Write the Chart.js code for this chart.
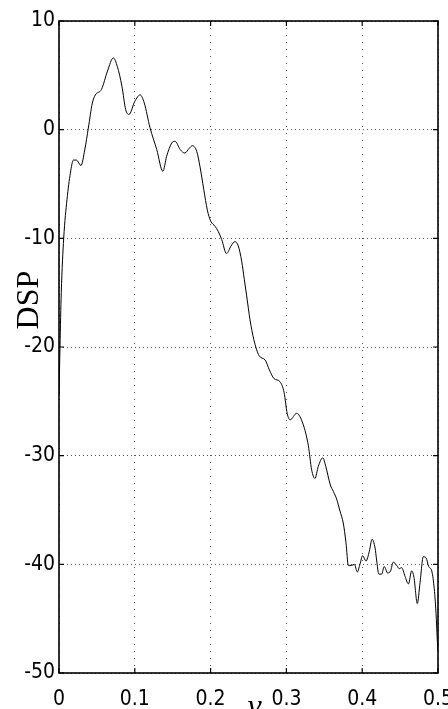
<!DOCTYPE html>
<html>
<head>
<meta charset="utf-8">
<script src="https://cdn.jsdelivr.net/npm/chart.js@4/dist/chart.umd.min.js"></script>
<style>
  html, body { margin: 0; padding: 0; background: #fff; }
  #wrap { width: 448px; height: 709px; position: relative; }
</style>
</head>
<body>
<div id="wrap"><canvas id="c" width="448" height="709"></canvas></div>
<script>
// ---- data ----
const freq = [
  0, 0.0013, 0.003, 0.0062, 0.0106, 0.015, 0.019, 0.023, 0.029, 0.034,
  0.0387, 0.044, 0.048, 0.056, 0.064, 0.0717, 0.077, 0.083, 0.088, 0.0923,
  0.100, 0.107, 0.1125, 0.12, 0.129, 0.137, 0.142, 0.1487, 0.153, 0.16,
  0.166, 0.172, 0.176, 0.1817, 0.186, 0.191, 0.1957, 0.2, 0.206, 0.21,
  0.2146, 0.221, 0.227, 0.232, 0.2365, 0.241, 0.2445, 0.2476, 0.252, 0.257,
  0.264, 0.272, 0.2775, 0.2836, 0.2916, 0.297, 0.301, 0.305, 0.3135, 0.322,
  0.329, 0.3333, 0.3377, 0.342, 0.348, 0.352, 0.358, 0.362, 0.3663, 0.3707,
  0.375, 0.3786, 0.3817, 0.386, 0.3896, 0.3936, 0.397, 0.4006, 0.405, 0.4094,
  0.413, 0.417, 0.419, 0.422, 0.4257, 0.429, 0.4336, 0.4375, 0.441, 0.4455,
  0.449, 0.452, 0.4565, 0.461, 0.4653, 0.4683, 0.4727, 0.4763, 0.4806, 0.4842,
  0.4877, 0.4917, 0.4947, 0.4974, 0.499, 0.5
];
const dsp = [
  -24.5, -20, -15, -10, -6.4, -4.0, -2.8, -2.8, -3.3, -1.85,
  0.15, 2.45, 3.2, 3.7, 5.4, 6.6, 5.8, 4.0, 1.84, 1.4,
  2.6, 3.2, 2.45, 0.2, -1.84, -3.83, -2.45, -1.23, -1.07, -1.84,
  -2.15, -1.7, -1.47, -2.0, -3.4, -5.5, -7.4, -8.4, -8.9, -9.35,
  -10.1, -11.4, -10.7, -10.3, -10.7, -12.1, -13.8, -15.3, -17.5, -19.3,
  -20.8, -21.2, -22.1, -22.9, -23.2, -24.2, -26.1, -26.7, -26.1, -27.1,
  -29.1, -31.3, -32.1, -31.0, -30.2, -31.0, -32.7, -33.3, -34.0, -35.1,
  -36.2, -38.0, -40.1, -40.1, -40.0, -40.7, -40.0, -39.2, -39.7, -38.8,
  -37.7, -38.5, -39.6, -40.9, -40.9, -40.2, -40.8, -40.6, -39.8, -40.1,
  -40.4, -40.3, -41.1, -41.8, -40.6, -41.2, -43.6, -41.7, -39.3, -39.4,
  -40.2, -40.6, -42.0, -44.5, -46.9, -48
];
const xTicks = [0, 0.1, 0.2, 0.3, 0.4, 0.5];
const xTickLabels = ['0', '0.1', '0.2', '0.3', '0.4', '0.5'];
const yTicks = [10, 0, -10, -20, -30, -40, -50];
const yTickLabels = ['10', '0', '-10', '-20', '-30', '-40', '-50'];
const yTitle = 'DSP';
const xTitle = 'ν';

const points = freq.map((f, i) => ({ x: f, y: dsp[i] }));
const tickFont = { family: "'Liberation Sans Narrow', 'DejaVu Sans Condensed', 'Liberation Sans', Arial, sans-serif", size: 21 };

const frame = {
  id: 'frame',
  beforeDraw(chart) {
    const c = chart.ctx;
    c.save();
    c.fillStyle = '#fff';
    c.fillRect(0, 0, chart.width, chart.height);
    c.restore();
  },
  afterDraw(chart) {
    const c = chart.ctx;
    const a = chart.chartArea;
    const xs = chart.scales.x, ys = chart.scales.y;
    c.save();
    c.strokeStyle = '#000';
    c.lineWidth = 1.6;
    c.strokeRect(a.left, a.top, a.right - a.left, a.bottom - a.top);
    c.lineWidth = 1.2;
    const L = 5;
    c.beginPath();
    xTicks.forEach(v => {
      const p = xs.getPixelForValue(v);
      c.moveTo(p, a.bottom); c.lineTo(p, a.bottom - L);
      c.moveTo(p, a.top); c.lineTo(p, a.top + L);
    });
    yTicks.forEach(v => {
      const p = ys.getPixelForValue(v);
      c.moveTo(a.left, p); c.lineTo(a.left + L, p);
      c.moveTo(a.right, p); c.lineTo(a.right - L, p);
    });
    c.stroke();
    // axis titles
    c.fillStyle = '#000';
    c.font = "32px 'Liberation Serif', 'Times New Roman', serif";
    c.textAlign = 'center';
    c.textBaseline = 'alphabetic';
    c.save();
    c.translate(a.left - 21, a.top + (a.bottom - a.top) * 0.428);
    c.rotate(-Math.PI / 2);
    c.fillText(yTitle, 0, 0);
    c.restore();
    c.font = "italic 32px 'Liberation Serif', 'Times New Roman', serif";
    c.fillText(xTitle, (a.left + a.right) / 2 + 6, a.bottom + 43);
    c.restore();
  }
};

new Chart(document.getElementById('c'), {
  type: 'line',
  data: {
    datasets: [{
      data: points,
      borderColor: '#000',
      borderWidth: 1,
      pointRadius: 0,
      fill: false,
      cubicInterpolationMode: 'monotone'
    }]
  },
  options: {
    responsive: false,
    animation: false,
    events: [],
    layout: { padding: { top: 21, right: 10, left: 0, bottom: 0 } },
    plugins: { legend: { display: false }, tooltip: { enabled: false } },
    scales: {
      x: {
        type: 'linear',
        min: 0, max: 0.5,
        afterBuildTicks: s => { s.ticks = xTicks.map(v => ({ value: v })); },
        afterFit: s => { s.height = 36; s.paddingLeft = 0; s.paddingRight = 0; },
        ticks: {
          font: tickFont, color: '#000', padding: 14, maxRotation: 0, autoSkip: false,
          callback: (v) => xTickLabels[xTicks.findIndex(t => Math.abs(t - v) < 1e-9)]
        },
        grid: { color: '#555', lineWidth: 1, drawTicks: false },
        border: { display: false, dash: [1, 6] }
      },
      y: {
        type: 'linear',
        min: -50, max: 10,
        afterBuildTicks: s => { s.ticks = yTicks.map(v => ({ value: v })); },
        afterFit: s => { s.width = 59; s.paddingTop = 0; s.paddingBottom = 0; },
        ticks: {
          font: tickFont, color: '#000', padding: 4, autoSkip: false,
          callback: (v) => yTickLabels[yTicks.findIndex(t => Math.abs(t - v) < 1e-9)]
        },
        grid: { color: '#555', lineWidth: 1, drawTicks: false },
        border: { display: false, dash: [1, 3] }
      }
    }
  },
  plugins: [frame]
});
</script>
</body>
</html>
